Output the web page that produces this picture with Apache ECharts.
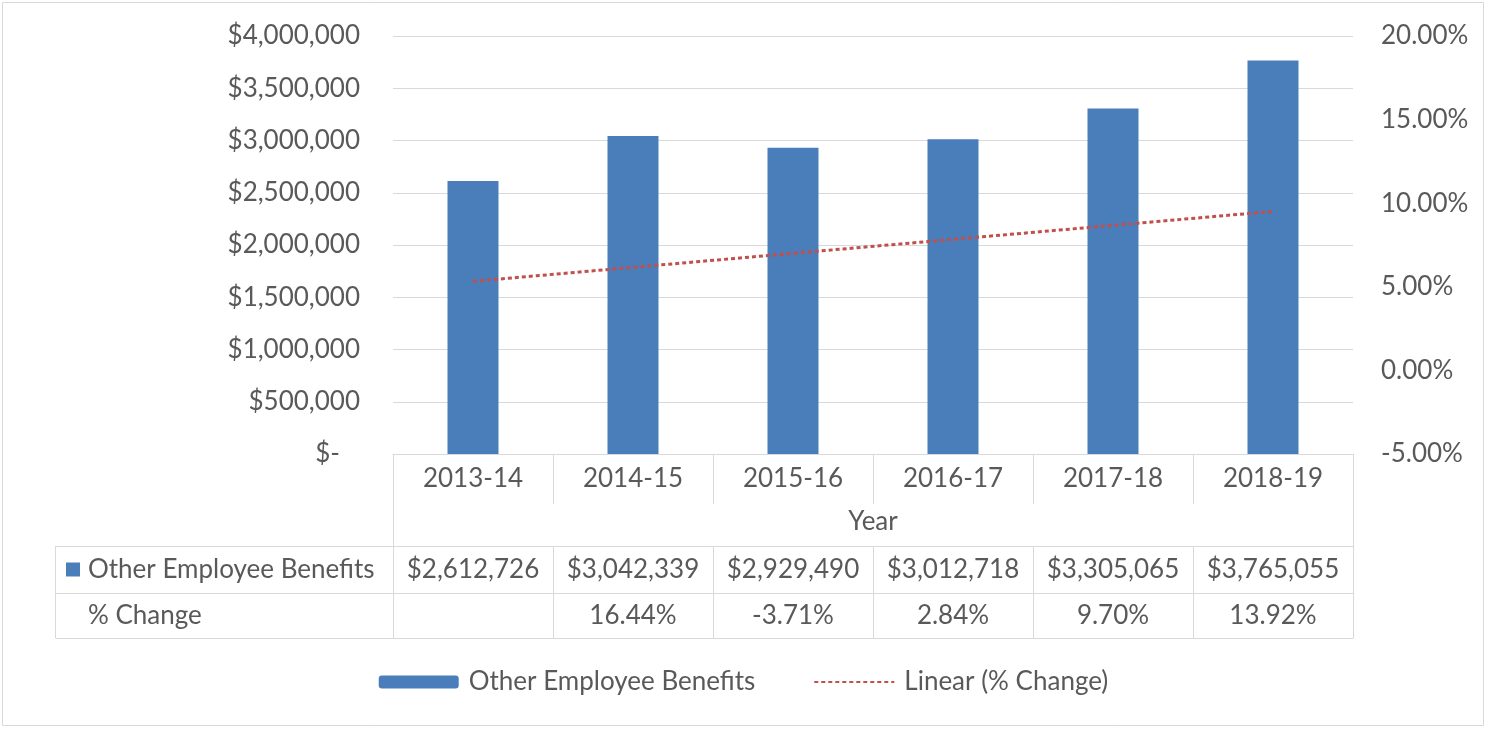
<!DOCTYPE html>
<html>
<head>
<meta charset="utf-8">
<title>Other Employee Benefits</title>
<script src="https://cdn.jsdelivr.net/npm/echarts@6/dist/echarts.min.js"></script>
<style>
  html, body { margin: 0; padding: 0; background: #ffffff; }
  #chart { width: 1487px; height: 729px; }
</style>
</head>
<body>
<div id="chart"></div>
<script>
// Fiscal years on the category axis
const years = ['2013-14', '2014-15', '2015-16', '2016-17', '2017-18', '2018-19'];
// Spending per year (dollars)
const benefits = [2612726, 3042339, 2929490, 3012718, 3305065, 3765055];
// Year-over-year change in percent (no prior year for the first)
const pctChange = [null, 16.44, -3.71, 2.84, 9.70, 13.92];
// Axis ticks
const dollarTicks = { min: 0, max: 4000000, step: 500000 };
const pctTicks = { min: -5, max: 20, step: 5 };

const seriesName = 'Other Employee Benefits';
const trendName = 'Linear (% Change)';
const pctRowName = '% Change';
const axisTitle = 'Year';

// Least-squares linear trend of the % change row, x = 1..n as in a spreadsheet trendline
function linearTrend(values) {
  const pts = [];
  values.forEach((v, i) => { if (v !== null && v !== undefined) pts.push([i + 1, v]); });
  const n = pts.length;
  const mx = pts.reduce((s, p) => s + p[0], 0) / n;
  const my = pts.reduce((s, p) => s + p[1], 0) / n;
  let num = 0, den = 0;
  pts.forEach(p => { num += (p[0] - mx) * (p[1] - my); den += (p[0] - mx) * (p[0] - mx); });
  const slope = num / den;
  const icpt = my - slope * mx;
  return values.map((_, i) => +(icpt + slope * (i + 1)).toFixed(4));
}
const trend = linearTrend(pctChange);

function money(v) {
  return '$' + Math.round(v).toLocaleString('en-US');
}

const FONT = 'Lato, "Open Sans", "Liberation Sans", sans-serif';
const TEXT = '#595959';
const LINE = '#d9d9d9';
const BAR = '#4a7ebb';
const TREND = '#c0504d';
const FS = 26;

const chart = echarts.init(document.getElementById('chart'), null, { renderer: 'canvas' });

const option = {
  animation: false,
  backgroundColor: '#ffffff',
  textStyle: { fontFamily: FONT, color: TEXT },
  grid: { left: 393, right: 134, top: 36, bottom: 275, containLabel: false },
  legend: {
    data: [
      { name: seriesName },
      { name: trendName, itemStyle: { opacity: 0 } }
    ],
    left: 'center',
    top: 664,
    itemWidth: 80,
    itemHeight: 13,
    itemGap: 58,
    textStyle: { fontFamily: FONT, fontSize: FS, color: TEXT, padding: [0, 0, 0, 5] }
  },
  xAxis: {
    type: 'category',
    data: years,
    boundaryGap: true,
    axisLine: { show: true, lineStyle: { color: LINE, width: 1 } },
    axisTick: { show: false },
    axisLabel: { fontFamily: FONT, fontSize: FS, color: TEXT, margin: 12 },
    name: axisTitle,
    nameLocation: 'middle',
    nameGap: 55,
    nameTextStyle: { fontFamily: FONT, fontSize: FS, color: TEXT },
    splitLine: { show: false }
  },
  yAxis: [
    {
      type: 'value',
      min: dollarTicks.min,
      max: dollarTicks.max,
      interval: dollarTicks.step,
      axisLine: { show: false },
      axisTick: { show: false },
      axisLabel: {
        fontFamily: FONT, fontSize: FS, color: TEXT, margin: 33,
        formatter: v => (v === 0 ? '$-   ' : money(v))
      },
      splitLine: { show: true, lineStyle: { color: LINE, width: 1 } }
    },
    {
      type: 'value',
      position: 'right',
      min: pctTicks.min,
      max: pctTicks.max,
      interval: pctTicks.step,
      axisLine: { show: false },
      axisTick: { show: false },
      axisLabel: {
        fontFamily: FONT, fontSize: FS, color: TEXT, margin: 28,
        formatter: v => v.toFixed(2) + '%'
      },
      splitLine: { show: false }
    }
  ],
  series: [
    {
      name: seriesName,
      type: 'bar',
      data: benefits,
      barWidth: 51,
      itemStyle: { color: BAR },
      yAxisIndex: 0
    },
    {
      name: trendName,
      type: 'line',
      data: trend,
      yAxisIndex: 1,
      symbol: 'none',
      lineStyle: { color: TREND, width: 3, type: [4, 3] },
      itemStyle: { color: TREND },
      z: 5
    }
  ]
};

chart.setOption(option);

// Data table under the plot: columns follow the category axis bands
function buildTable() {
  const centers = years.map(y => chart.convertToPixel({ xAxisIndex: 0 }, y));
  const band = centers[1] - centers[0];
  const bounds = [centers[0] - band / 2].concat(centers.map(c => c + band / 2));
  const right = bounds[bounds.length - 1];
  const top = chart.convertToPixel({ yAxisIndex: 0 }, 0);

  const headerBottom = top + 50;
  const row1Top = top + 92;
  const row2Top = top + 139;
  const tableBottom = top + 184;
  const tableLeft = 55;

  const els = [];
  const line = (x1, y1, x2, y2) => els.push({
    type: 'line', silent: true,
    shape: { x1, y1, x2, y2 },
    style: { stroke: LINE, lineWidth: 1 }
  });
  const text = (x, y, str, align) => els.push({
    type: 'text', silent: true, x, y,
    style: { text: str, fill: TEXT, font: FS + 'px ' + FONT, align: align || 'center', verticalAlign: 'middle' }
  });

  // outer frame of the chart area
  els.push({
    type: 'rect', silent: true,
    shape: { x: 2.5, y: 2.5, width: 1481, height: 723 },
    style: { fill: null, stroke: LINE, lineWidth: 1 }
  });

  // cell separators
  bounds.forEach((b, i) => {
    const x = Math.round(b) + 0.5;
    if (i === 0 || i === bounds.length - 1) {
      line(x, top, x, tableBottom);
    } else {
      line(x, top, x, headerBottom);
      line(x, row1Top, x, tableBottom);
    }
  });
  // row rules
  [row1Top, row2Top, tableBottom].forEach(y => line(tableLeft + 0.5, Math.round(y) + 0.5, Math.round(right) + 0.5, Math.round(y) + 0.5));
  line(tableLeft + 0.5, row1Top, tableLeft + 0.5, tableBottom);

  // row headers
  const r1 = (row1Top + row2Top) / 2;
  const r2 = (row2Top + tableBottom) / 2;
  els.push({
    type: 'rect', silent: true,
    shape: { x: 66, y: r1 - 7, width: 14, height: 14 },
    style: { fill: BAR }
  });
  text(88, r1, seriesName, 'left');
  text(88, r2, pctRowName, 'left');

  // cell values
  centers.forEach((c, i) => {
    text(c, r1, money(benefits[i]));
    if (pctChange[i] !== null) text(c, r2, pctChange[i].toFixed(2) + '%');
  });

  chart.setOption({ graphic: { elements: els } });
}
buildTable();
</script>
</body>
</html>
